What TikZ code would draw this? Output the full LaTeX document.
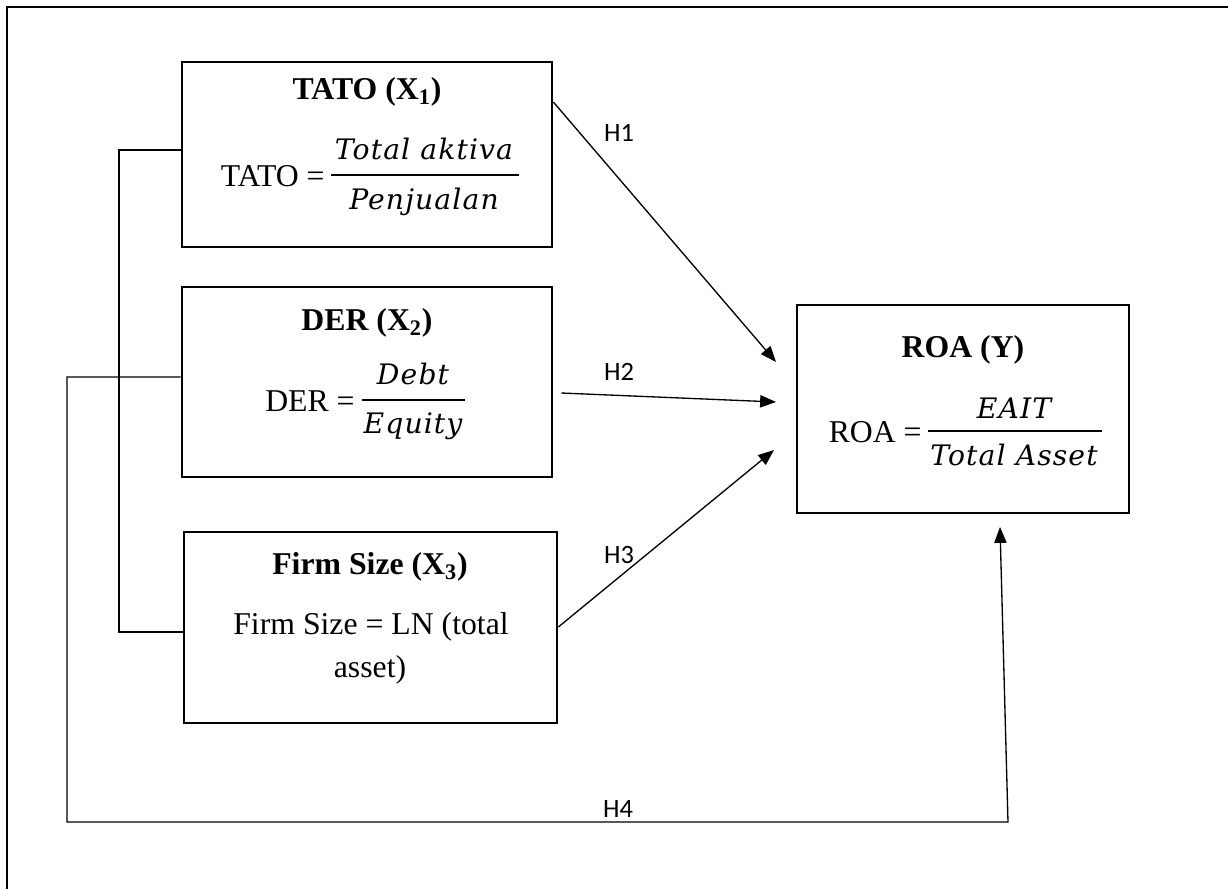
\documentclass[tikz,border=0pt]{standalone}
\usepackage{fontspec}
\setmainfont{Liberation Serif}
\newfontfamily\fracfont[LetterSpace=4]{DejaVu Serif}
\newfontfamily\hfont{Carlito}
\usetikzlibrary{arrows.meta,fit}
\tikzset{
  box/.style={draw, line width=1.5pt, inner sep=0pt},
  title/.style={font=\fontsize{18}{21}\selectfont\bfseries, inner sep=0pt},
  txt/.style={font=\fontsize{18}{21}\selectfont, inner sep=0pt},
  fr/.style={font=\fontsize{16}{19}\fracfont\itshape, inner sep=0pt},
  bar/.style={line width=1.6pt},
  conn/.style={line width=0.75pt},
  arr/.style={line width=0.75pt, -{Triangle[length=9pt,width=7pt]}},
  hlab/.style={font=\fontsize{15}{18}\hfont, inner sep=0pt}
}
\begin{document}
\begin{tikzpicture}[x=0.567pt,y=-0.567pt]
\useasboundingbox (0,0) rectangle (1228,888);
\clip (0,0) rectangle (1228,888);
\fill[white] (0,0) rectangle (1228,888);
% outer frame
\draw[line width=1.6pt] (7,900) -- (7,7) -- (1240,7);

% boxes
\node[box, fit={(182,62) (552,247)}] (tato) {};
\node[box, fit={(182,287) (552,477)}] (der) {};
\node[box, fit={(184,532) (557,723)}] (firm) {};
\node[box, fit={(797,305) (1129,513)}] (roa) {};

% TATO
\node[title] (tatot) at (367,92) {TATO (X\textsubscript{1})};
\node[txt, anchor=east] (tatoeq) at (325,176) {TATO =};
\node[fr] (tatonum) at (424,149) {Total aktiva};
\node[fr] (tatoden) at (424,202) {Penjualan};
\draw[bar] (331,175) -- (519,175);

% DER
\node[title] (dert) at (367,323) {DER (X\textsubscript{2})};
\node[txt, anchor=east] (dereq) at (355,401) {DER =};
\node[fr] (dernum) at (413,374) {Debt};
\node[fr] (derden) at (413,426) {Equity};
\draw[bar] (362,400) -- (465,400);

% Firm size
\node[title] (firmt) at (370,567) {Firm Size (X\textsubscript{3})};
\node[txt] (firml1) at (371,627) {Firm Size = LN (total};
\node[txt] (firml2) at (370,670) {asset)};

% ROA
\node[title] (roat) at (963,350) {ROA (Y)};
\node[txt, anchor=east] (roaeq) at (922,432) {ROA =};
\node[fr] (roanum) at (1014,408) {EAIT};
\node[fr] (roaden) at (1014,455) {Total Asset};
\draw[bar] (928,431) -- (1102,431);

% end points of arrows
\coordinate (h1e) at (776,362);
\coordinate (h2e) at (776,402);
\coordinate (h3e) at (774,450);
\coordinate (h4e) at (1000,527);

% hypothesis arrows
\draw[arr] (tato.east |- 0,102) -- (h1e);
\draw[arr] ([xshift=4.5pt]der.east |- 0,393) -- (h2e);
\draw[arr] (firm.east |- 0,627) -- (h3e);

% bracket joining the independents
\draw[conn] (tato.west |- 0,150) -- (119,150) -- (119,632) -- (firm.west |- 0,632);
\coordinate (h4a) at (67,377);
\coordinate (h4b) at (67,822);
\coordinate (h4c) at (1008,822);
\draw[arr] (der.west |- 0,377) -- (h4a) -- (h4b) -- (h4c) -- (h4e);

% labels
\node[hlab] (h1) at (619,133) {H1};
\node[hlab] (h2) at (619,372) {H2};
\node[hlab] (h3) at (619,555) {H3};
\node[hlab] (h4) at (618,809) {H4};
\end{tikzpicture}
\end{document}
